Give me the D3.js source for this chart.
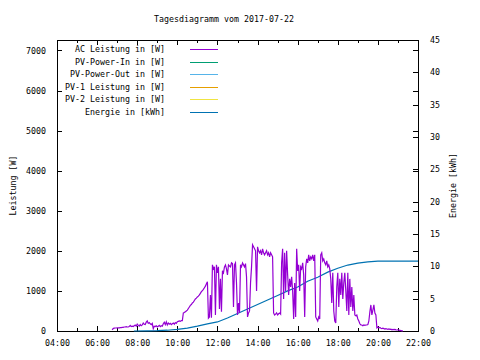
<!DOCTYPE html>
<html>
<head>
<meta charset="utf-8">
<script src="https://cdn.jsdelivr.net/npm/d3@7"></script>
<style>
  html, body { margin: 0; padding: 0; background: #fff; }
  svg { display: block; }
  text { font-family: "DejaVu Sans Mono", "Liberation Mono", monospace; font-size: 8.3px; fill: #000; }
</style>
</head>
<body>
<svg id="chart" width="480" height="360"></svg>
<script>
// ---------- data ----------
const titleText = "Tagesdiagramm vom 2017-07-22";
const yLabel = "Leistung [W]";
const y2Label = "Energie [kWh]";

const legendLabels = ["AC Leistung in [W]", "PV-Power-In in [W]", "PV-Power-Out in [W]",
                      "PV-1 Leistung in [W]", "PV-2 Leistung in [W]", "Energie in [kWh]"];
const legendColors = ["#9400d3", "#009e73", "#56b4e9", "#e69f00", "#f0e442", "#0072b2"];

const xTickLabels = ["04:00", "06:00", "08:00", "10:00", "12:00", "14:00", "16:00", "18:00", "20:00", "22:00"];
const xMinorTicks = ["05:00", "07:00", "09:00", "11:00", "13:00", "15:00", "17:00", "19:00", "21:00"];
const yTicks = [0, 1000, 2000, 3000, 4000, 5000, 6000, 7000];
const y2Ticks = [0, 5, 10, 15, 20, 25, 30, 35, 40, 45];

// AC power samples (W), one every 3 minutes starting at 06:45
const acStart = "06:45";
const acStepMinutes = 3;
const acPower = [
  30, 60, 70, 75, 75, 80, 80, 80, 85, 85,
  90, 90, 100, 100, 110, 100, 100, 110, 140, 110,
  120, 110, 130, 150, 120, 170, 140, 120, 160, 130,
  150, 200, 170, 160, 220, 250, 190, 210, 180, 160,
  190, 60, 120, 110, 130, 100, 120, 140, 110, 130,
  120, 180, 220, 160, 230, 150, 200, 170, 190, 160,
  180, 200, 170, 210, 190, 230, 240, 250, 240, 260,
  260, 450, 460, 480, 500, 520, 560, 600, 640, 660,
  700, 720, 760, 800, 820, 850, 870, 900, 940, 980,
  1010, 1040, 1080, 1120, 1180, 1230, 320, 350, 900, 330,
  1650, 1550, 1600, 400, 1650, 1450, 1600, 550, 1300, 480,
  1500, 1450, 1600, 1650, 1550, 1400, 1650, 1620, 1600, 1700,
  1680, 600, 1650, 1700, 1200, 400, 700, 450, 1650, 1600,
  1700, 1650, 1600, 1680, 1350, 350, 450, 500, 1200, 1600,
  2150, 2100, 2050, 2000, 1000, 2100, 2000, 1950, 2000, 1900,
  2050, 1950, 1900, 1950, 2000, 1900, 1950, 1850, 1950, 1900,
  1850, 450, 400, 420, 450, 400, 430, 450, 420, 1700,
  2050, 800, 1950, 1000, 2000, 1400, 900, 1300, 1100, 1350,
  1000, 300, 1200, 350, 2050, 1500, 1650, 1000, 1600, 1550,
  1700, 1400, 350, 1600, 1800, 1700, 1900, 1750, 1850, 1800,
  1900, 1750, 1900, 350, 300, 250, 350, 300, 1900, 1950,
  1750, 1800, 1700, 1650, 1750, 1600, 1650, 1550, 1300, 700,
  1450, 500, 250, 200, 1100, 1450, 600, 1300, 900, 1450,
  800, 1200, 1450, 1000, 500, 1450, 400, 1300, 600, 1100,
  500, 900, 400, 380, 400, 300, 250, 180, 150, 150,
  130, 150, 140, 150, 150, 160, 250, 480, 650, 400,
  520, 650, 450, 400, 80, 100, 80, 90, 70, 60,
  70, 60, 50, 60, 50, 40, 50, 40, 45, 30,
  40, 35, 40, 30, 25, 30, 20, 15, 10, 5,
  0
];

// Cumulative energy (kWh)
const energyTime = ["07:50", "08:30", "09:00", "09:30", "10:00", "10:30", "11:00", "11:30", "12:00",
                    "12:30", "13:00", "13:30", "14:00", "14:30", "15:00", "15:30", "16:00", "16:30",
                    "17:00", "17:30", "18:00", "18:30", "19:00", "19:30", "20:00", "22:00"];
const energyValue = [0, 0.02, 0.05, 0.12, 0.25, 0.45, 0.75, 1.1, 1.4,
                     2.0, 2.7, 3.4, 4.1, 4.8, 5.5, 6.2, 6.8, 7.7,
                     8.3, 9.1, 9.7, 10.2, 10.5, 10.7, 10.8, 10.8];

// ---------- chart ----------
const toMin = s => { const [h, m] = s.split(":").map(Number); return h * 60 + m; };
const fmt = m => String(Math.floor(m / 60)).padStart(2, "0") + ":" + String(m % 60).padStart(2, "0");

const L = 57, R = 418, T = 40, B = 331;
const svg = d3.select("#chart");

const x = d3.scaleLinear().domain([toMin("04:00"), toMin("22:00")]).range([L, R]);
const y = d3.scaleLinear().domain([0, 7260]).range([B, T]);
const y2 = d3.scaleLinear().domain([0, 45]).range([B, T]);

// title
svg.append("text").attr("x", 224).attr("y", 22).attr("text-anchor", "middle").text(titleText);

function styleAxis(g) {
  g.select(".domain").remove();
  g.selectAll("line").attr("stroke", "#000").attr("shape-rendering", "crispEdges");
  g.selectAll("text").attr("font-family", null).attr("font-size", null);
}

// bottom major
svg.append("g").attr("transform", `translate(0,${B})`)
  .call(d3.axisBottom(x).tickValues(xTickLabels.map(toMin)).tickFormat(fmt)
    .tickSizeInner(-5).tickSizeOuter(0).tickPadding(9))
  .call(styleAxis);
// bottom minor
svg.append("g").attr("transform", `translate(0,${B})`)
  .call(d3.axisBottom(x).tickValues(xMinorTicks.map(toMin)).tickFormat("")
    .tickSizeInner(-3).tickSizeOuter(0))
  .call(styleAxis);
// top mirrored
svg.append("g").attr("transform", `translate(0,${T})`)
  .call(d3.axisTop(x).tickValues(xTickLabels.map(toMin)).tickFormat("")
    .tickSizeInner(-5).tickSizeOuter(0))
  .call(styleAxis);
svg.append("g").attr("transform", `translate(0,${T})`)
  .call(d3.axisTop(x).tickValues(xMinorTicks.map(toMin)).tickFormat("")
    .tickSizeInner(-3).tickSizeOuter(0))
  .call(styleAxis);
// left
svg.append("g").attr("transform", `translate(${L},0)`)
  .call(d3.axisLeft(y).tickValues(yTicks).tickFormat(d3.format("d"))
    .tickSizeInner(-5).tickSizeOuter(0).tickPadding(11))
  .call(styleAxis);
// right mirrored y ticks
svg.append("g").attr("transform", `translate(${R},0)`)
  .call(d3.axisRight(y).tickValues(yTicks).tickFormat("")
    .tickSizeInner(-5).tickSizeOuter(0))
  .call(styleAxis);
// right y2
svg.append("g").attr("transform", `translate(${R},0)`)
  .call(d3.axisRight(y2).tickValues(y2Ticks).tickFormat(d3.format("d"))
    .tickSizeInner(-5).tickSizeOuter(0).tickPadding(12))
  .call(styleAxis);

// border
svg.append("rect").attr("x", L + 0.5).attr("y", T + 0.5).attr("width", R - L).attr("height", B - T)
  .attr("fill", "none").attr("stroke", "#000").attr("shape-rendering", "crispEdges");

// axis labels
svg.append("text").attr("transform", `translate(13,${(T + B) / 2}) rotate(-90)`)
  .attr("text-anchor", "middle").attr("dy", "0.35em").text(yLabel);
svg.append("text").attr("transform", `translate(453,${(T + B) / 2}) rotate(-90)`)
  .attr("text-anchor", "middle").attr("dy", "0.35em").text(y2Label);

// data lines
const acStartMin = toMin(acStart);
const acData = acPower.map((v, i) => [acStartMin + i * acStepMinutes, v]);
const energyData = energyTime.map((t, i) => [toMin(t), energyValue[i]]);

svg.append("path").datum(energyData)
  .attr("fill", "none").attr("stroke", legendColors[5]).attr("stroke-width", 1.2)
  .attr("d", d3.line().x(d => x(d[0])).y(d => y2(d[1])));

svg.append("path").datum(acData)
  .attr("fill", "none").attr("stroke", legendColors[0]).attr("stroke-width", 1.2)
  .attr("d", d3.line().x(d => x(d[0])).y(d => y(d[1])));

// legend
const lg = svg.append("g");
legendLabels.forEach((lab, i) => {
  const yy = 49 + i * 12.6;
  lg.append("text").attr("x", 165).attr("y", yy).attr("dy", "0.35em")
    .attr("text-anchor", "end").text(lab);
  lg.append("line").attr("x1", 190).attr("x2", 218).attr("y1", Math.round(yy) + 0.5).attr("y2", Math.round(yy) + 0.5)
    .attr("stroke", legendColors[i]).attr("stroke-width", 1).attr("shape-rendering", "crispEdges");
});
</script>
</body>
</html>
